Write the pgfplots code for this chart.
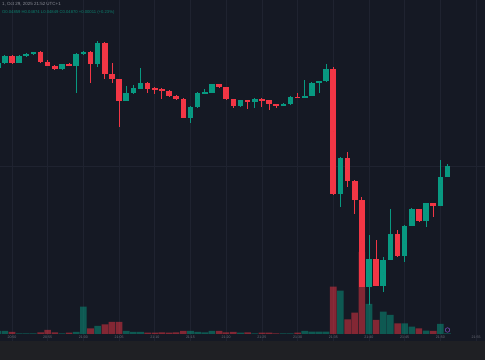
\documentclass[border=0pt]{standalone}
\usepackage{fontspec}
\setmainfont{Liberation Sans}
\usepackage{pgfplots}
\usepackage{pgfplotstable}
\pgfplotsset{compat=1.18}
\definecolor{bg}{HTML}{151924}
\definecolor{gridc}{HTML}{1F2330}
\definecolor{band}{HTML}{1F2024}
\definecolor{up}{HTML}{089981}
\definecolor{dn}{HTML}{F23645}
\definecolor{lbl}{HTML}{6A6D78}
\definecolor{hdr}{HTML}{8A8D96}
\definecolor{logo}{HTML}{7E4FC0}

% t = minutes after 21:00, o h l c = price (arbitrary units), v = volume
\pgfplotstableread{
t o h l c v
-12 332 338 331 337 3
-11 337 345 336 344 3
-9 337 345 337 344 0.7
-8 344 346.5 343 346 0.7
-7 346 348.5 345.5 348 0.7
-3 330.7 336.5 330.5 336 0.7
-1 334 347 307.3 346 2
0 346 348.5 345 348 27.3
2 336 359 333 357 8
6 299 314 298.5 307.3 3
7 306.7 315 306 312 2
8 311 332 310.5 317.3 2
15 282.3 294 277.3 293.3 3
16 293.3 308 292.5 306.7 2
17 306.7 311.3 306 308 1.7
18 307.3 316 307 315.7 3
22 294 300.5 293.5 300 1.3
24 298 301.5 292.3 300.7 0.7
28 294.3 296.5 293.5 296 0.7
29 295.7 304 295 303.3 0.7
31 302.7 320 302.3 304 3
32 304 318 303.5 317.3 2.3
33 317.3 319.5 307 319 2.3
34 319 336 318.5 331 2.3
36 206 242.5 192.7 241.7 43.3
40 113.3 165 95 141 30
42 114.3 143 108.3 140 22.3
43 140 191 139.5 166 19
45 144.3 175 138.3 174.3 10.7
46 174.3 191.5 174 191 7.3
48 179.3 197 173.3 196.7 3.3
50 194 240 193.5 222.7 10
51 222.7 236 222.5 234 0.5
}\uptab

\pgfplotstableread{
t o h l c v
-10 344 345 336.5 337 2
-6 348 349 337 337.7 1.7
-5 338 340 334 334.3 4
-4 334.3 335 330 330.7 1.7
-2 336 337 333.5 334 1.3
1 348 348.5 317 336 5.7
3 357 358 321 326 9.7
4 326 337 317 320.7 12
5 320.7 321 273 298.7 12
9 317.3 318 307.3 311 1.3
10 312 312.5 306 310.3 1.3
11 311 312 301 308.7 1.7
12 309 310 303 304 1.3
13 304 305 300 300.7 1.7
14 300.7 302 282 282.3 3
19 315.7 316.5 312 312.7 3
20 312.7 313 300 300.7 1.7
21 300.7 301 292 294 2
23 300 300.5 291 298 1.7
25 301 301.5 293.3 299.3 1.3
26 299.7 300 290 296 1.3
27 296 296.5 292 294.3 0.7
30 303.3 307 302 302.3 1.3
35 331 333 205 206 47.3
37 241.7 248 213.3 219.3 14.7
38 219.3 220 186 200 21.3
39 200 203.3 113 113.3 82
41 141 160 113.5 114.3 14
44 166 170 143.5 144.3 10.7
47 191 191.5 178.5 179.3 5.7
49 196.7 197 183.3 194 3
}\dntab

\begin{document}
\begin{tikzpicture}
\useasboundingbox (0,0) rectangle (485bp,360bp);
\pgfplotsset{base/.style={scale only axis, width=485bp, xmin=-11.68, xmax=56.25,
  at={(0,0)}, anchor=south west, axis line style={draw=none},
  major tick length=0pt, xticklabels={}, yticklabels={}},
  candle/.style={only marks, mark size=0pt, mark options={draw=none, fill=none}}}

% background, grid and bottom band
\begin{axis}[base, height=360bp, ymin=40, ymax=400,
  axis background/.style={fill=bg},
  xtick={-10,-5,...,55}, ytick={234}, grid=major,
  grid style={gridc, line width=0.6bp}]
\addplot[draw=none, forget plot] coordinates {(0,100)};
\fill[band] (rel axis cs:0,0) rectangle (rel axis cs:1,0.0528);
\end{axis}

% candles
\begin{axis}[base, height=360bp, ymin=40, ymax=400, xtick=\empty, ytick=\empty]
\addplot[candle, error bars/.cd, y dir=both, y explicit, error mark=none,
  error bar style={draw=up, line width=0.9bp}]
  table[x=t, y expr={(\thisrow{h}+\thisrow{l})/2}, y error expr={(\thisrow{h}-\thisrow{l})/2}] \uptab;
\addplot[candle, error bars/.cd, y dir=both, y explicit, error mark=none,
  error bar style={draw=dn, line width=0.9bp}]
  table[x=t, y expr={(\thisrow{h}+\thisrow{l})/2}, y error expr={(\thisrow{h}-\thisrow{l})/2}] \dntab;
\addplot[candle, error bars/.cd, y dir=both, y explicit, error mark=none,
  error bar style={draw=up, line width=5.6bp}]
  table[x=t, y expr={(\thisrow{o}+\thisrow{c})/2}, y error expr={abs(\thisrow{c}-\thisrow{o})/2}] \uptab;
\addplot[candle, error bars/.cd, y dir=both, y explicit, error mark=none,
  error bar style={draw=dn, line width=5.6bp}]
  table[x=t, y expr={(\thisrow{o}+\thisrow{c})/2}, y error expr={abs(\thisrow{c}-\thisrow{o})/2}] \dntab;
\node[anchor=west, inner sep=0pt, font=\fontsize{4.5}{5}\selectfont, text=hdr] at (rel axis cs:0.004,0.9889) {1, Oct 29, 2025 21:52 UTC+1};
\node[anchor=west, inner sep=0pt, font=\fontsize{4.2}{5}\selectfont, text=up!80!bg] at (rel axis cs:0.004,0.9667) {O0.04859 H0.04874 L0.04849 C0.04870 +0.00011 (+0.23\%)};
\end{axis}

% volume (drawn over the candles, semi-transparent)
\begin{axis}[base, at={(0,26bp)}, height=100bp, ymin=0, ymax=100,
  xtick={-10,-5,...,55},
  xticklabels={20:50,20:55,21:00,21:05,21:10,21:15,21:20,21:25,21:30,21:35,21:40,21:45,21:50,21:55},
  xticklabel style={font=\fontsize{3.6}{4}\selectfont, text=lbl, inner sep=0pt, yshift=-2.2bp},
  ytick=\empty]
\addplot[ybar, bar shift=0pt, bar width=0.92, draw=none, fill=up, fill opacity=0.5] table[x=t,y=v] \uptab;
\addplot[ybar, bar shift=0pt, bar width=0.92, draw=none, fill=dn, fill opacity=0.5] table[x=t,y=v] \dntab;
\end{axis}
\node[circle, draw=logo, line width=0.5bp, inner sep=1.6bp] at (447.5bp,30bp) {};
\end{tikzpicture}
\end{document}
